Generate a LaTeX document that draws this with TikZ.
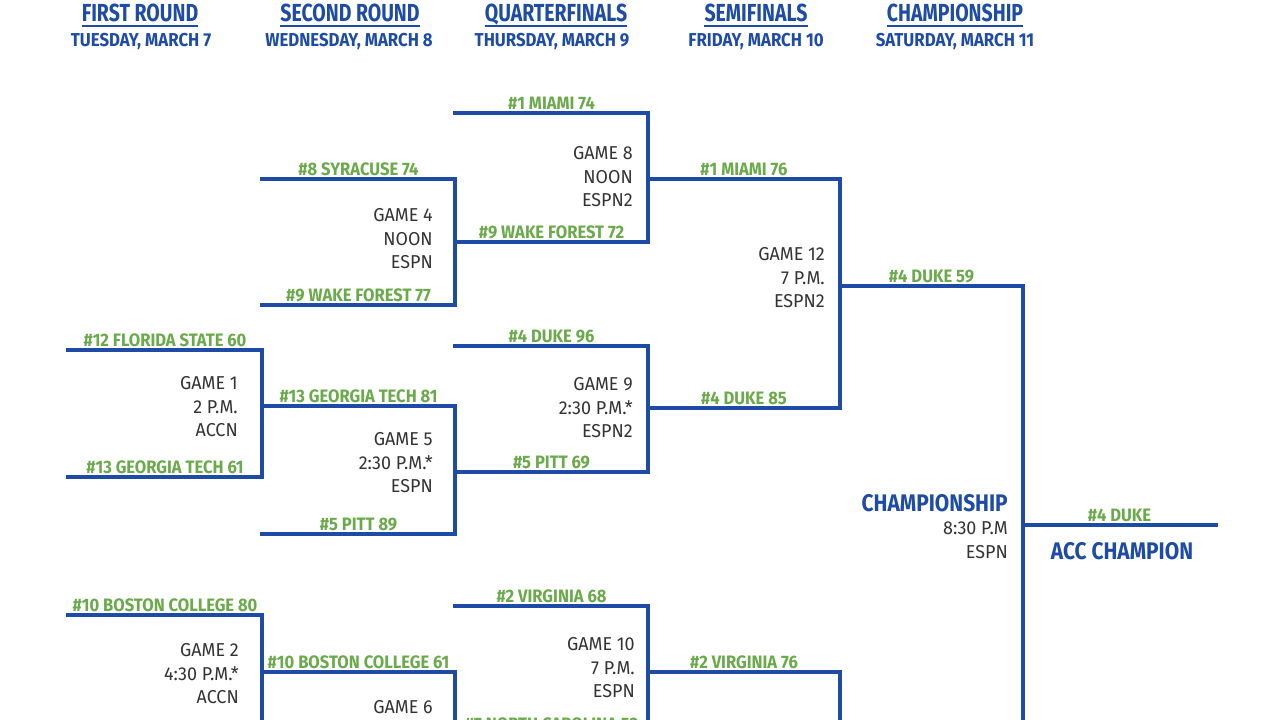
\documentclass[tikz,border=0pt]{standalone}
\usepackage{fontspec}
\usepackage{xcolor}
\usepackage{tikz}
\usetikzlibrary{calc}
\setmainfont{Fira Sans}
\newfontfamily\headfont[FakeStretch=0.79]{Fira Sans}
\newfontfamily\datefont[FakeStretch=0.9]{Fira Sans}
\newfontfamily\bigfont[FakeStretch=0.87]{Fira Sans}
\newfontfamily\teamfont[FakeStretch=0.92]{Fira Sans}
\newfontfamily\infofont[FakeStretch=0.96]{Fira Sans}
\definecolor{bracketblue}{HTML}{1D4BA6}
\definecolor{teamgreen}{HTML}{6AAA4B}
\definecolor{infogray}{HTML}{333333}
\tikzset{
  bline/.style={bracketblue,line width=2.3pt,line cap=rect},
  team/.style={teamgreen,font=\teamfont\bfseries\fontsize{13.5}{15}\selectfont,
    inner sep=0pt,anchor=base,yshift=2.4pt},
  info/.style={infogray,font=\infofont\fontsize{14}{17.6}\selectfont,
    align=right,inner sep=0pt,anchor=east},
  roundhead/.style={bracketblue,font=\headfont\bfseries\fontsize{18.5}{22}\selectfont,
    inner sep=0pt,anchor=base},
  rounddate/.style={bracketblue,font=\datefont\bfseries\fontsize{14}{16}\selectfont,
    inner sep=0pt,anchor=base},
  bigblue/.style={bracketblue,font=\bigfont\bfseries\fontsize{18}{20}\selectfont,
    inner sep=0pt}
}
\begin{document}
\begin{tikzpicture}[x=0.75pt,y=-0.75pt]
  \path[use as bounding box,fill=white] (0,0) rectangle (1280,720);
  \begin{scope}
  \clip (0,0) rectangle (1280,720);
  % round headers
  \node[roundhead] (h1) at (140,22) {FIRST ROUND};
  \node[roundhead] (h2) at (350,22) {SECOND ROUND};
  \node[roundhead] (h3) at (556,22) {QUARTERFINALS};
  \node[roundhead] (h4) at (756,22) {SEMIFINALS};
  \node[roundhead] (h5) at (955,22) {CHAMPIONSHIP};
  \foreach \h in {1,...,5}
    \draw[bracketblue,line width=1.5pt] ($(h\h.base west)+(0,4)$) -- ($(h\h.base east)+(0,4)$);
  \node[rounddate] (d1) at (141,47) {TUESDAY, MARCH 7};
  \node[rounddate] (d2) at (349,47) {WEDNESDAY, MARCH 8};
  \node[rounddate] (d3) at (552,47) {THURSDAY, MARCH 9};
  \node[rounddate] (d4) at (756,47) {FRIDAY, MARCH 10};
  \node[rounddate] (d5) at (955,47) {SATURDAY, MARCH 11};
  % team lines
  \foreach \xa/\xb/\y/\team [count=\i] in {
    68/262/350/{\#12 FLORIDA STATE 60}, 68/262/477/{\#13 GEORGIA TECH 61},
    68/262/615/{\#10 BOSTON COLLEGE 80},
    262/455/179/{\#8 SYRACUSE 74}, 262/455/305/{\#9 WAKE FOREST 77},
    262/455/406/{\#13 GEORGIA TECH 81}, 262/455/534/{\#5 PITT 89},
    262/455/672/{\#10 BOSTON COLLEGE 61},
    455/648/113/{\#1 MIAMI 74}, 455/648/242/{\#9 WAKE FOREST 72},
    455/648/346/{\#4 DUKE 96}, 455/648/472/{\#5 PITT 69},
    455/648/606/{\#2 VIRGINIA 68}, 455/648/734/{\#7 NORTH CAROLINA 53},
    648/840/179/{\#1 MIAMI 76}, 648/840/408/{\#4 DUKE 85},
    648/840/672/{\#2 VIRGINIA 76},
    840/1023/286/{\#4 DUKE 59},
    1023/1216/525/{\#4 DUKE}}{
    \coordinate (s\i-l) at (\xa,\y);
    \coordinate (s\i-r) at (\xb,\y);
    \draw[bline] (s\i-l) -- (s\i-r);
    \node[team] (t\i) at ($(s\i-l)!.5!(s\i-r)$) {\team};
  }
  % bracket joins
  \foreach \a/\b in {1/2,4/5,6/7,9/10,11/12,13/14,15/16}
    \draw[bline] (s\a-r) -- (s\b-r);
  \coordinate (g2foot) at (262,742);
  \coordinate (g6foot) at (455,800);
  \coordinate (g13foot) at (840,900);
  \coordinate (g14foot) at (1023,765);
  \draw[bline] (s3-r) -- (g2foot);
  \draw[bline] (s8-r) -- (g6foot);
  \draw[bline] (s17-r) -- (g13foot);
  \draw[bline] (s18-r) -- (g14foot);
  % game info
  \node[info] (g1) at (238,407) {GAME 1\\2 P.M.\\ACCN};
  \node[info] (g2) at (239,674) {GAME 2\\4:30 P.M.*\\ACCN};
  \node[info] (g4) at (433,239) {GAME 4\\NOON\\ESPN};
  \node[info] (g5) at (433,463) {GAME 5\\2:30 P.M.*\\ESPN};
  \node[info,anchor=base east] (g6) at (433,713) {GAME 6};
  \node[info] (g8) at (633,177) {GAME 8\\NOON\\ESPN2};
  \node[info] (g9) at (633,408) {GAME 9\\2:30 P.M.*\\ESPN2};
  \node[info] (g10) at (635,668) {GAME 10\\7 P.M.\\ESPN};
  \node[info] (g12) at (825,278) {GAME 12\\7 P.M.\\ESPN2};
  % championship
  \node[bigblue,anchor=east] (champ) at (1008,503) {CHAMPIONSHIP};
  \node[info] (g14) at (1008,540) {8:30 P.M\\ESPN};
  \node[bigblue] (winner) at (1122,551) {ACC CHAMPION};
  \end{scope}
\end{tikzpicture}
\end{document}
